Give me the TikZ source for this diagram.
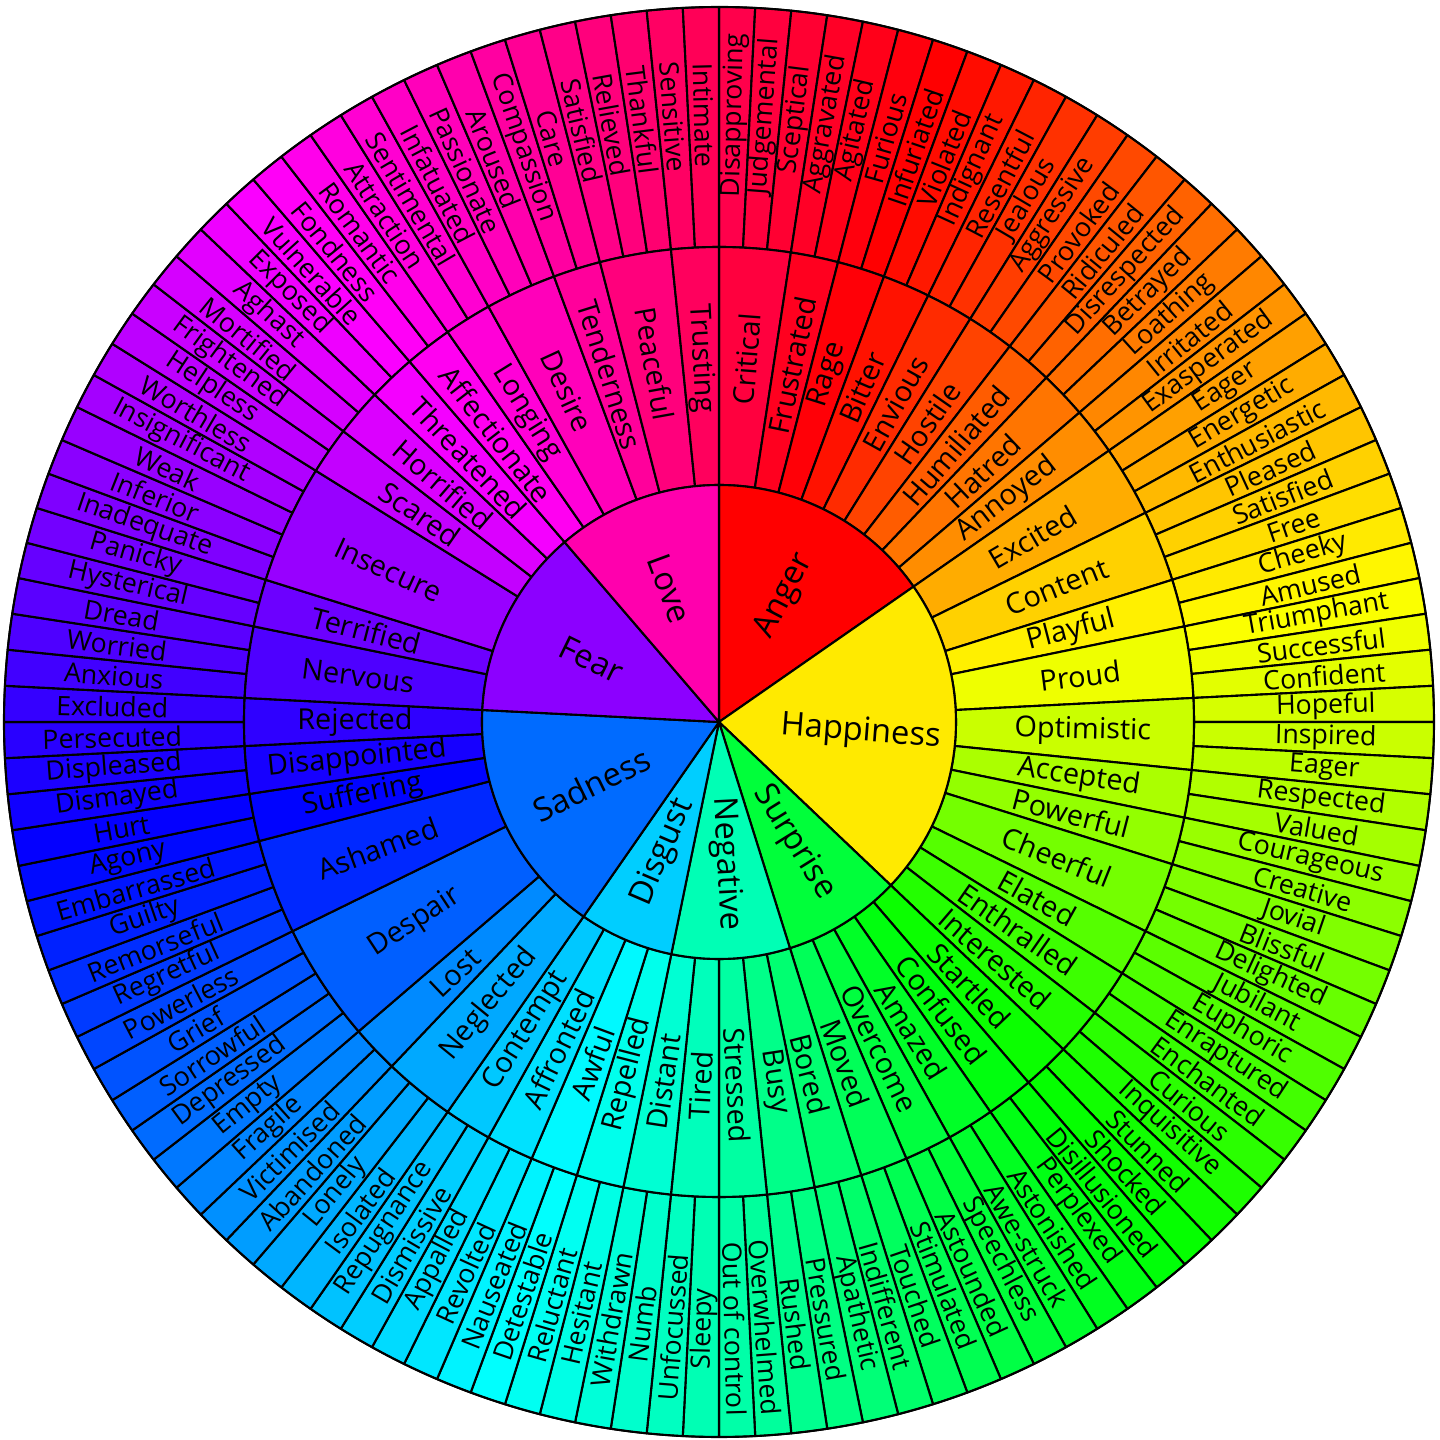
\documentclass[tikz,border=0pt]{standalone}
\usepackage{fontspec}
\setmainfont{Open Sans}
\newcommand{\segw}{2.9032258}
\newcommand{\setsegfill}[1]{\convertcolorspec{Hsb}{#1,1,1}{rgb}\segrgb\definecolor{segfill}{rgb}{\segrgb}}
\tikzset{
  seg/.style={draw=black,line width=0.6pt,line join=round},
  outerlabel/.style={inner sep=0pt,font=\fontsize{7.6}{9}\selectfont},
  midlabel/.style={inner sep=0pt,font=\fontsize{8.2}{10}\selectfont},
  corelabel/.style={inner sep=0pt,font=\fontsize{9.3}{11}\selectfont}
}
\begin{document}
\begin{tikzpicture}
  \useasboundingbox (-7.19,-7.18) rectangle (7.21,7.22);
  \foreach \lbl [count=\k from 0] in {Disapproving,Judgemental,Sceptical,Aggravated,Agitated,Furious,Infuriated,Violated,Indignant,Resentful,Jealous,Aggressive,Provoked,Ridiculed,Disrespected,Betrayed,Loathing,Irritated,Exasperated,Eager,Energetic,Enthusiastic,Pleased,Satisfied,Free,Cheeky,Amused,Triumphant,Successful,Confident,Hopeful,Inspired,Eager,Respected,Valued,Courageous,Creative,Jovial,Blissful,Delighted,Jubilant,Euphoric,Enraptured,Enchanted,Curious,Inquisitive,Stunned,Shocked,Disillusioned,Perplexed,Astonished,Awe-struck,Speechless,Astounded,Stimulated,Touched,Indifferent,Apathetic,Pressured,Rushed,Overwhelmed,Out of control,Sleepy,Unfocussed,Numb,Withdrawn,Hesitant,Reluctant,Detestable,Nauseated,Revolted,Appalled,Dismissive,Repugnance,Isolated,Lonely,Abandoned,Victimised,Fragile,Empty,Depressed,Sorrowful,Grief,Powerless,Regretful,Remorseful,Guilty,Embarrassed,Agony,Hurt,Dismayed,Displeased,Persecuted,Excluded,Anxious,Worried,Dread,Hysterical,Panicky,Inadequate,Inferior,Weak,Insignificant,Worthless,Helpless,Frightened,Mortified,Aghast,Exposed,Vulnerable,Fondness,Romantic,Attraction,Sentimental,Infatuated,Passionate,Aroused,Compassion,Care,Satisfied,Relieved,Thankful,Sensitive,Intimate}{
    \pgfmathsetmacro{\sa}{90-\k*\segw}
    \pgfmathsetmacro{\sb}{90-(\k+1)*\segw}
    \pgfmathsetmacro{\tm}{(\k+0.5)*\segw}
    \pgfmathsetmacro{\hue}{mod(\tm-19+360,360)}
    \pgfmathsetmacro{\rot}{\tm<180 ? 90-\tm : 270-\tm}
    \setsegfill{\hue}
    \filldraw[seg,fill=segfill] (\sa:4.75) -- (\sa:7.15) arc[start angle=\sa,end angle=\sb,radius=7.15] -- (\sb:4.75) arc[start angle=\sb,end angle=\sa,radius=4.75] -- cycle;
    \node[outerlabel,rotate=\rot] (outer-\k) at (90-\tm:6.07) {\lbl};
  }
  \foreach \lbl/\ia/\ib [count=\k] in {Critical/0/3,Frustrated/3/5,Rage/5/7,Bitter/7/9,Envious/9/11,Hostile/11/13,Humiliated/13/15,Hatred/15/17,Annoyed/17/19,
      Excited/19/22,Content/22/25,Playful/25/27,Proud/27/30,Optimistic/30/33,Accepted/33/35,Powerful/35/37,Cheerful/37/40,Elated/40/42,Enthralled/42/44,Interested/44/46,
      Startled/46/48,Confused/48/50,Amazed/50/52,Overcome/52/54,Moved/54/56,
      Bored/56/58,Busy/58/60,Stressed/60/62,Tired/62/64,Distant/64/66,
      Repelled/66/68,Awful/68/70,Affronted/70/72,Contempt/72/74,
      Neglected/74/77,Lost/77/79,Despair/79/84,Ashamed/84/88,Suffering/88/90,Disappointed/90/92,Rejected/92/94,
      Nervous/94/97,Terrified/97/99,Insecure/99/104,Scared/104/106,Horrified/106/108,Threatened/108/110,
      Affectionate/110/112,Longing/112/114,Desire/114/117,Tenderness/117/119,Peaceful/119/122,Trusting/122/124}{
    \pgfmathsetmacro{\sa}{90-\ia*\segw}
    \pgfmathsetmacro{\sb}{90-\ib*\segw}
    \pgfmathsetmacro{\tm}{(\ia+\ib)/2*\segw}
    \pgfmathsetmacro{\hue}{mod(\tm-19+360,360)}
    \pgfmathsetmacro{\rot}{\tm<180 ? 90-\tm : 270-\tm}
    \setsegfill{\hue}
    \filldraw[seg,fill=segfill] (\sa:2.37) -- (\sa:4.75) arc[start angle=\sa,end angle=\sb,radius=4.75] -- (\sb:2.37) arc[start angle=\sb,end angle=\sa,radius=2.37] -- cycle;
    \node[midlabel,rotate=\rot] (mid-\k) at (90-\tm:3.64) {\lbl};
  }
  \foreach \lbl/\ia/\ib in {Anger/0/19,Happiness/19/46,Surprise/46/56,Negative/56/66,Disgust/66/74,Sadness/74/94,Fear/94/110,Love/110/124}{
    \pgfmathsetmacro{\sa}{90-\ia*\segw}
    \pgfmathsetmacro{\sb}{90-\ib*\segw}
    \pgfmathsetmacro{\tm}{(\ia+\ib)/2*\segw}
    \pgfmathsetmacro{\hue}{\ia*\segw}
    \pgfmathsetmacro{\rot}{\tm<180 ? 90-\tm : 270-\tm}
    \setsegfill{\hue}
    \filldraw[seg,fill=segfill] (0,0) -- (\sa:2.37) arc[start angle=\sa,end angle=\sb,radius=2.37] -- cycle;
    \node[corelabel,rotate=\rot] (core-\lbl) at (90-\tm:1.42) {\lbl};
  }
  \draw[line width=0.5pt] (0,0) circle[radius=7.15];
\end{tikzpicture}
\end{document}
